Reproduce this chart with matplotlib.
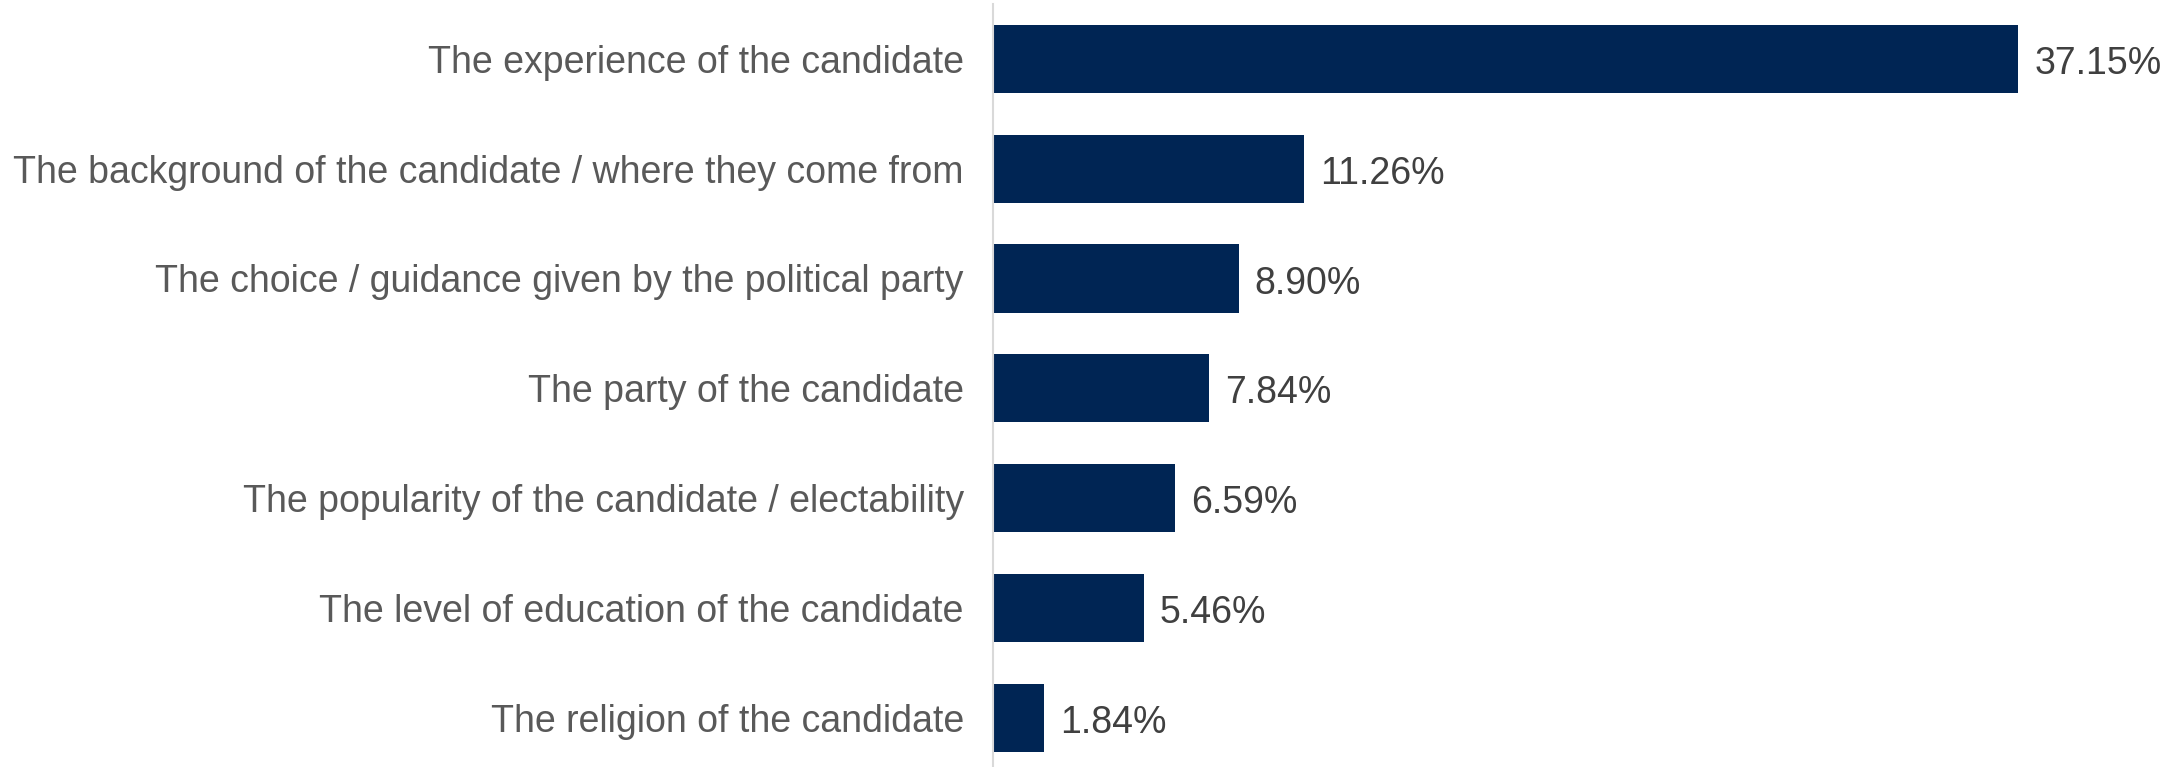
import matplotlib
matplotlib.use("Agg")
import matplotlib.pyplot as plt

categories = [
    "The experience of the candidate",
    "The background of the candidate / where they come from",
    "The choice / guidance given by the political party",
    "The party of the candidate",
    "The popularity of the candidate / electability",
    "The level of education of the candidate",
    "The religion of the candidate",
]
values = [37.15, 11.26, 8.90, 7.84, 6.59, 5.46, 1.84]
value_labels = ["37.15%", "11.26%", "8.90%", "7.84%", "6.59%", "5.46%", "1.84%"]

plt.rcParams['font.family'] = ['Liberation Sans', 'DejaVu Sans']

W, H = 2179, 767
fig = plt.figure(figsize=(W / 100, H / 100), dpi=100)
left = 993 / W
pitch = 109.8
top_px = 4
height_px = 7 * pitch
ax = fig.add_axes([left, 1 - (top_px + height_px) / H, 1 - left, height_px / H])

ypos = list(range(len(categories)))
ax.barh(ypos, values, height=0.62, color="#002554", edgecolor="none")
ax.set_ylim(len(categories) - 0.5, -0.5)
ax.set_xlim(0, (W - 993) / 27.6)

ax.set_yticks(ypos)
ax.set_yticklabels(categories, fontsize=27, color="#595959")
ax.tick_params(axis="y", length=0, pad=21)
ax.set_xticks([])

for s in ["top", "right", "bottom"]:
    ax.spines[s].set_visible(False)
ax.spines["left"].set_color("#d9d9d9")
ax.spines["left"].set_linewidth(1.5)

for y, v, lab in zip(ypos, values, value_labels):
    ax.annotate(lab, xy=(v, y), xytext=(16, -5), textcoords="offset pixels",
                va="center", ha="left", fontsize=27, color="#404040")

fig.savefig("out.png", dpi=100)
